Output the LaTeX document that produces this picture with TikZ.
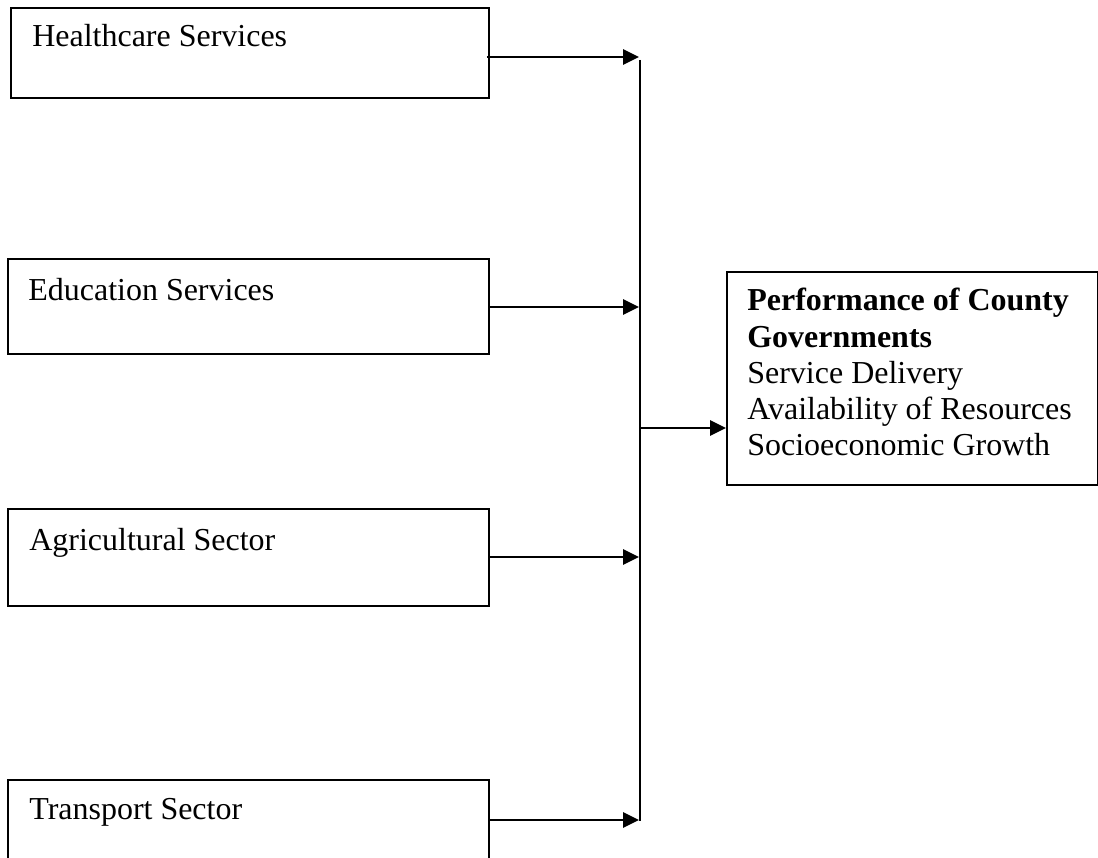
\documentclass[tikz,border=0pt]{standalone}
\usepackage{fontspec}
\setmainfont{Liberation Serif}
\usetikzlibrary{arrows.meta}

\tikzset{
  sbox/.style={draw, line width=1.1pt, rectangle, inner sep=0pt, anchor=north west},
  lbl/.style={anchor=base west, inner sep=0pt, font=\fontsize{18.2}{22}\selectfont},
  arr/.style={-{Triangle[length=9pt,width=8.5pt]}, line width=1.6pt},
}

\begin{document}
\begin{tikzpicture}[x=0.02cm, y=-0.02cm]
  \useasboundingbox (0,0) rectangle (1098,858);
  \clip (0,0) rectangle (1098,858);

  % sector boxes
  \node[sbox, minimum width=9.56cm, minimum height=1.8cm] (health) at (10,7) {};
  \node[lbl] (healthtxt) at (32,47) {Healthcare Services};
  \node[sbox, minimum width=9.62cm, minimum height=1.9cm] (edu) at (7,258) {};
  \node[lbl] (edutxt) at (28,300) {Education Services};
  \node[sbox, minimum width=9.62cm, minimum height=1.94cm] (agri) at (7,508) {};
  \node[lbl] (agritxt) at (29,550) {Agricultural Sector};
  \node[sbox, minimum width=9.62cm, minimum height=2.2cm] (trans) at (7,779) {};
  \node[lbl] (transtxt) at (29,819) {Transport Sector};

  % outcome box
  \node[sbox, minimum width=7.42cm, minimum height=4.26cm] (perf) at (726,271) {};
  \node[lbl, font=\fontsize{18.2}{22}\selectfont\bfseries] (perf1) at (747,310) {Performance of County};
  \node[lbl, font=\fontsize{18.2}{22}\selectfont\bfseries] (perf2) at (747,347) {Governments};
  \node[lbl] (perf3) at (747,383) {Service Delivery};
  \node[lbl] (perf4) at (747,419) {Availability of Resources};
  \node[lbl] (perf5) at (747,455) {Socioeconomic Growth};

  % junctions on the collecting line
  \coordinate (j1) at (639,57);
  \coordinate (j2) at (639,307);
  \coordinate (j3) at (639,557);
  \coordinate (j4) at (639,820);
  \coordinate (top) at (640,60);
  \coordinate (bot) at (640,821);
  \coordinate (mid) at (640,428);

  \draw[arr] ([xshift=-0.06cm]health.east |- j1) -- (j1);
  \draw[arr] (edu.east |- j2) -- (j2);
  \draw[arr] (agri.east |- j3) -- (j3);
  \draw[arr] (trans.east |- j4) -- (j4);
  \draw[line width=1.2pt] (top) -- (bot);
  \draw[arr] (mid) -- (perf.west |- mid);
\end{tikzpicture}
\end{document}
